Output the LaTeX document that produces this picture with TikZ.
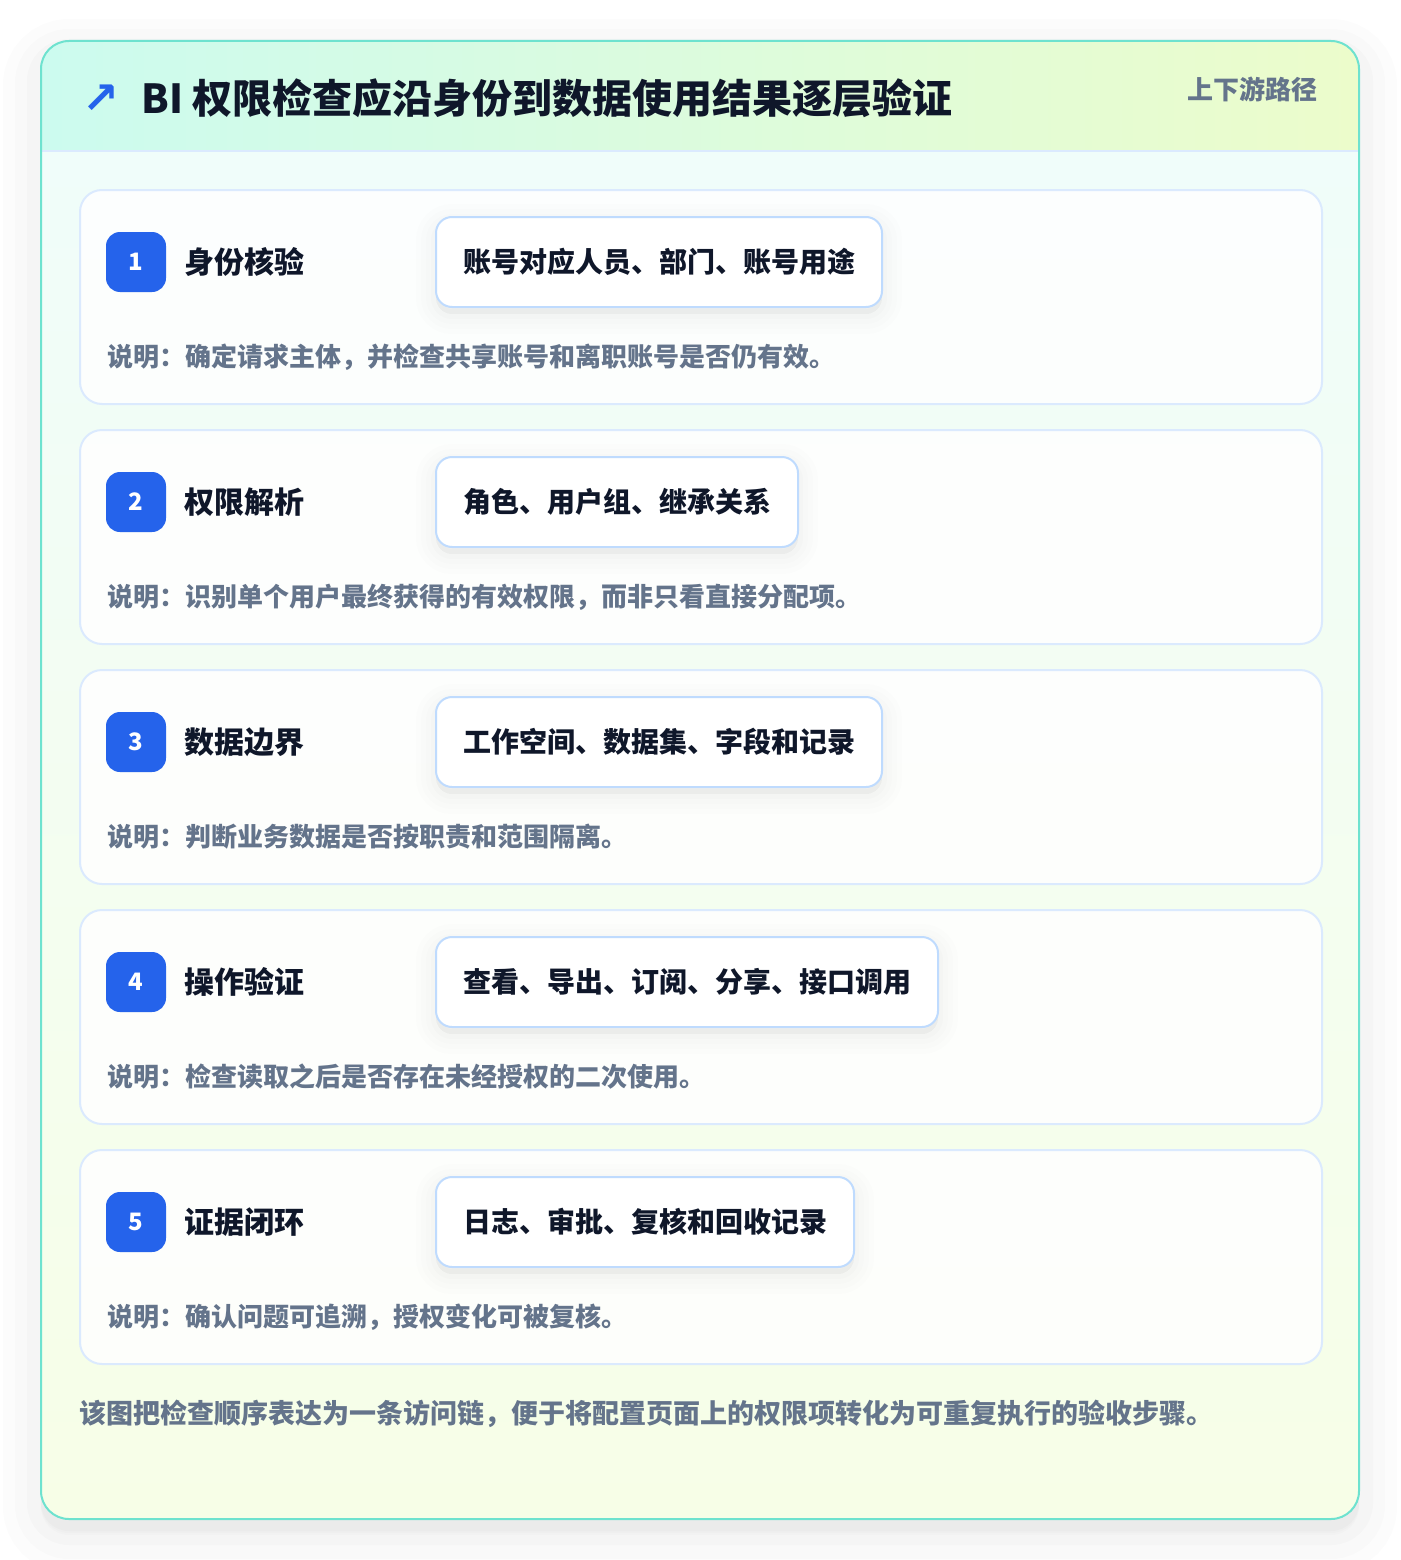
\documentclass[tikz,border=0pt]{standalone}
\usepackage{fontspec}
\setmainfont{Noto Sans CJK SC}
\newfontfamily\symfont{DejaVu Sans}
\usetikzlibrary{positioning}
\definecolor{badgeblue}{HTML}{2563EB}
\definecolor{inkdark}{HTML}{0F172A}
\definecolor{inkgray}{HTML}{64748B}
\definecolor{cardline}{HTML}{DBEAFE}
\definecolor{tagline}{HTML}{BFDBFE}
\definecolor{frameline}{HTML}{6EE2CF}
\definecolor{headleft}{HTML}{CCFBEF}
\definecolor{headright}{HTML}{ECFCCB}
\definecolor{bodytop}{HTML}{F0FDFA}
\definecolor{bodybottom}{HTML}{F7FEE7}
\tikzset{
    shadowring/.style 2 args={preaction={fill=black, draw=black, opacity=#2, line width=#1,
        transform canvas={yshift=-7pt}}},
    softshadow/.style={shadowring={40pt}{0.007}, shadowring={30pt}{0.008}, shadowring={20pt}{0.009},
        shadowring={10pt}{0.010}},
}
\begin{document}
\begin{tikzpicture}[x=1pt, y=-1pt,
    stepcard/.style={draw=cardline, line width=2pt, fill=white, fill opacity=0.85, draw opacity=1,
        rounded corners=22pt, minimum width=1242pt, minimum height=214pt, inner sep=0pt, anchor=north west},
    badge/.style={fill=badgeblue, rounded corners=14pt, minimum size=60pt, inner sep=0pt,
        text=white, font=\fontsize{24}{28}\selectfont\bfseries},
    steptitle/.style={anchor=west, inner sep=0pt, text=inkdark, font=\fontsize{30}{36}\selectfont\bfseries},
    tagbox/.style={anchor=west, draw=tagline, line width=2pt, fill=white, rounded corners=16pt,
        minimum height=90pt, inner xsep=27pt, inner ysep=0pt, text=inkdark,
        font=\fontsize{28}{34}\selectfont\bfseries, softshadow},
    notetext/.style={anchor=west, inner sep=0pt, text=inkgray, font=\fontsize{26}{32}\selectfont\bfseries},
]
    \useasboundingbox (0,0) rectangle (1400,1560);
    \fill[white] (0,0) rectangle (1400,1560);
    % outer frame with soft shadow
    \path[rounded corners=28pt, fill=white,
        preaction={fill=black, draw=black, opacity=0.010, line width=76pt, transform canvas={yshift=-16pt}},
        preaction={fill=black, draw=black, opacity=0.012, line width=52pt, transform canvas={yshift=-14pt}},
        preaction={fill=black, draw=black, opacity=0.014, line width=28pt, transform canvas={yshift=-12pt}}]
        (41,41) rectangle (1359,1519);
    \begin{scope}
        \clip[rounded corners=28pt] (41,41) rectangle (1359,1519);
        \shade[top color=bodytop, bottom color=bodybottom] (41,151) rectangle (1359,1519);
        \shade[left color=headleft, right color=headright] (41,41) rectangle (1359,151);
        \draw[cardline, line width=2pt] (41,151) -- (1359,151);
    \end{scope}
    \draw[frameline, line width=2pt, rounded corners=28pt] (41,41) rectangle (1359,1519);
    % header
    \node[text=badgeblue, inner sep=0pt, font=\symfont\bfseries\fontsize{44}{50}\selectfont] (icon) at (101,99) {↗};
    \node[anchor=west, inner sep=0pt, text=inkdark, font=\fontsize{40}{48}\selectfont\bfseries] (title) at (141,98)
        {BI 权限检查应沿身份到数据使用结果逐层验证};
    \node[anchor=east, inner sep=0pt, text=inkgray, font=\fontsize{26}{32}\selectfont\bfseries] (path) at (1318,89) {上下游路径};
    % the five steps, one card every 240px
    \foreach \i/\name/\tag/\note in {
        1/{身份核验}/{账号对应人员、部门、账号用途}/{说明：确定请求主体，并检查共享账号和离职账号是否仍有效。},
        2/{权限解析}/{角色、用户组、继承关系}/{说明：识别单个用户最终获得的有效权限，而非只看直接分配项。},
        3/{数据边界}/{工作空间、数据集、字段和记录}/{说明：判断业务数据是否按职责和范围隔离。},
        4/{操作验证}/{查看、导出、订阅、分享、接口调用}/{说明：检查读取之后是否存在未经授权的二次使用。},
        5/{证据闭环}/{日志、审批、复核和回收记录}/{说明：确认问题可追溯，授权变化可被复核。}}{
        \pgfmathsetmacro\top{189+240*(\i-1)}
        \node[stepcard] (card\i) at (79,\top) {};
        \node[badge] (badge\i) at (136,{\top+73}) {\i};
        \node[steptitle, right=18pt of badge\i] (title\i) {\name};
        \node[tagbox] (tag\i) at (435,{\top+73}) {\tag};
        \node[notetext] (note\i) at (107,{\top+168}) {\note};
    }
    % closing remark
    \node[anchor=west, inner sep=0pt, text=inkgray, font=\fontsize{27}{32}\selectfont\bfseries] (remark) at (79,1414)
        {该图把检查顺序表达为一条访问链，便于将配置页面上的权限项转化为可重复执行的验收步骤。};
\end{tikzpicture}
\end{document}
